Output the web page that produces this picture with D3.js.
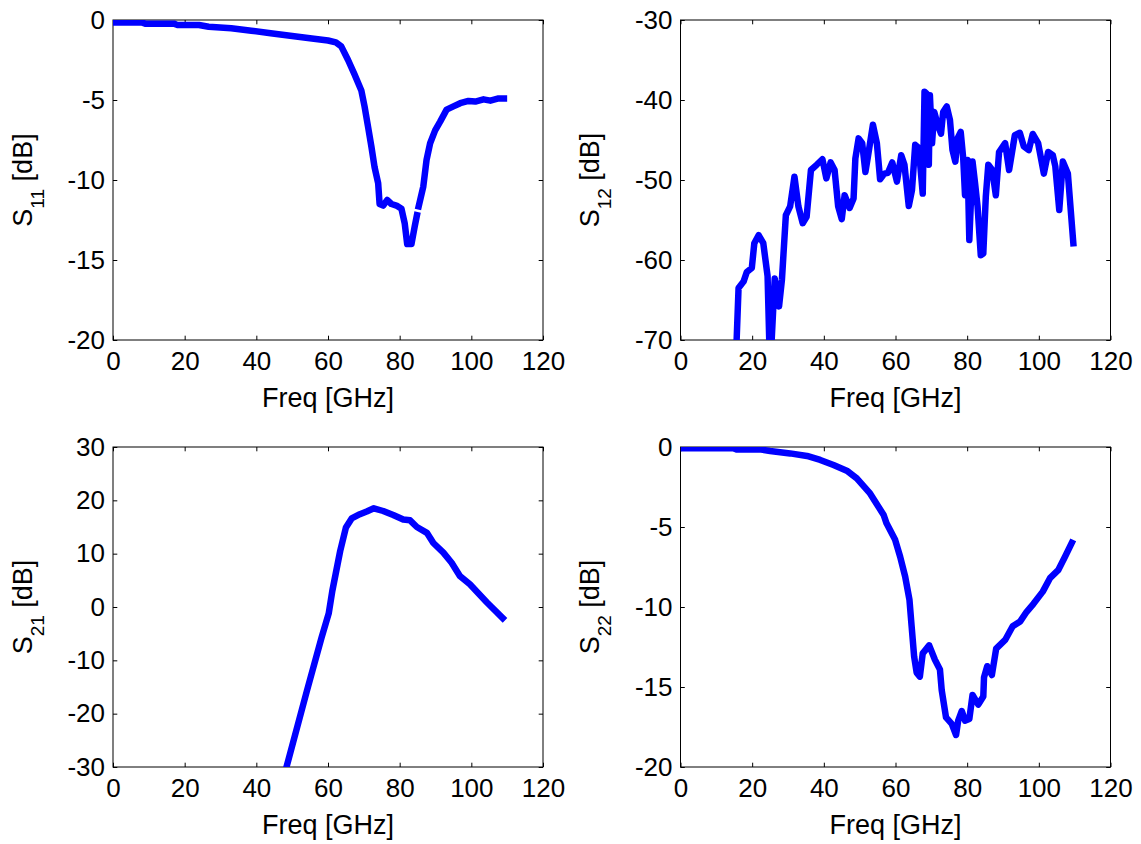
<!DOCTYPE html>
<meta charset="utf-8">
<style>
  body { margin: 0; background: #fff; }
  svg { display: block; font-family: "Liberation Sans", Arial, sans-serif; }
  .frame { fill: none; stroke: #000; stroke-width: 1; }
  .tick line { stroke: #000; stroke-width: 1; }
  .tick text { font-size: 26px; fill: #000; }
  .trace { fill: none; stroke: #0000ff; stroke-width: 6.5; stroke-linejoin: round; stroke-linecap: butt; }
  .label { font-size: 27px; fill: #000; }
</style>
<body>
<script src="https://cdn.jsdelivr.net/npm/d3@7"></script>
<script>
// [freq GHz, dB]
var s11 = [[0,-0.15],[8,-0.15],[9,-0.23],[17,-0.23],[18,-0.31],[24,-0.31],[26.7,-0.42],[33,-0.52],
  [38.6,-0.67],[44,-0.83],[50,-1.0],[55.5,-1.15],[60,-1.28],[62.2,-1.4],[63.7,-1.65],[65.6,-2.5],
  [67.4,-3.4],[69.3,-4.4],[70.2,-5.4],[71.2,-6.7],[72.1,-7.9],[73,-9.2],[74,-10.2],[74.4,-11.5],
  [75.4,-11.6],[76.5,-11.25],[77.7,-11.5],[79.1,-11.6],[80.5,-11.8],[81.4,-12.7],[82.1,-14],
  [83.3,-14],[84.2,-12.9],[85.0,-12.0],null,[85.1,-11.85],[86.6,-10.4],[87.5,-8.75],[88.5,-7.7],
  [89.9,-6.9],[91.3,-6.35],[93.1,-5.6],[95,-5.4],[96.9,-5.2],[99.2,-5.06],[101.1,-5.1],
  [103.4,-4.96],[105.3,-5.04],[107.6,-4.9],[110,-4.9]];

var s12 = [[15.5,-72],[16.2,-63.5],[17.6,-62.7],[18.5,-61.5],[19.9,-61],[20.6,-57.9],[21.8,-56.9],
  [23.1,-57.9],[24.3,-62],[25,-74],[26.3,-62.3],[27.5,-65.8],[28.3,-62.5],[29.4,-54.4],[30.6,-53.3],
  [31.8,-49.6],[32.9,-53.3],[34.1,-55.4],[35.2,-54.6],[36.4,-48.75],[38,-48.1],[39.6,-47.4],
  [40.7,-49.8],[41.9,-47.8],[43,-48.75],[44,-53.3],[45,-54.9],[45.8,-51.9],[47.2,-53.5],[48.3,-52.3],
  [48.8,-47.3],[49.7,-44.8],[50.7,-45.4],[51.6,-49],[52.3,-47.1],[53.7,-43.1],[54.8,-45.4],
  [55.7,-49.9],[56.9,-49.2],[57.9,-49.1],[59.1,-47.8],[60.4,-50.2],[61.6,-46.9],[62.5,-48.1],
  [63.7,-53.25],[64.6,-51.25],[65.5,-45.6],[66.5,-46],[67.6,-51.7],[68.1,-38.96],[68.7,-39.2],
  [69.3,-48.1],[69.6,-39.4],[70.2,-45.4],[70.8,-41.5],[71.8,-43.1],[72.7,-44.2],[73.3,-41.5],
  [74.3,-40.8],[75.2,-42.5],[75.9,-46.25],[76.7,-47.7],[77.3,-44.8],[78.2,-44],[78.9,-47.3],
  [79.4,-51.9],[80.1,-47.5],[80.6,-57.5],[81.5,-47.7],[82.2,-50.4],[82.9,-53.3],[83.8,-59.4],
  [84.5,-59.2],[85.2,-52.1],[85.9,-48.1],[87,-48.75],[88,-51.9],[88.9,-46.5],[90.6,-45.4],
  [91.7,-48.75],[93.3,-44.4],[94.7,-44.1],[95.8,-45.8],[97.2,-46.25],[98.3,-44.25],[99.8,-45.4],
  [101.4,-49.2],[102.6,-46.5],[103.9,-46.9],[104.6,-48.3],[105.7,-53.75],[106.7,-47.7],
  [108.1,-49.2],[109.7,-58.3]];

var s21 = [[48,-31],[48.5,-29.8],[54.1,-15.75],[58.2,-5.75],[60.2,-1.2],[61.2,3],[63.4,10.5],
  [65,14.9],[66.6,16.6],[68.9,17.4],[70.8,17.9],[72.8,18.5],[75.4,18],[78.2,17.25],[81,16.4],
  [82.9,16.25],[84.8,15],[87.6,13.9],[89.4,12],[92.2,10.2],[94.5,8.3],[96.8,5.8],[99.6,4.25],
  [104.3,0.9],[109.4,-2.5]];

var s22 = [[0,-0.08],[14.7,-0.08],[15.6,-0.15],[22.1,-0.15],[25,-0.25],[30.6,-0.4],[35.3,-0.56],
  [39,-0.81],[42.7,-1.125],[46.4,-1.48],[49.2,-1.96],[52.9,-2.9],[56.7,-4.25],[57.5,-4.77],
  [59.9,-5.8],[61.3,-6.86],[62.7,-8.1],[63.9,-9.56],[64.5,-11.2],[65.2,-13.1],[65.9,-14.1],
  [66.8,-14.35],[67.6,-12.9],[69.4,-12.4],[71,-13.3],[72.4,-13.9],[72.9,-15.2],[74.1,-16.9],
  [75.7,-17.3],[76.9,-18],[77.5,-17.1],[78.5,-16.5],[79.4,-17.1],[80.6,-17],[81.5,-15.5],
  [83.1,-16.1],[84.5,-15.6],[84.7,-14.4],[85.6,-13.7],[86.9,-14.25],[88.1,-12.6],[90.6,-12.06],
  [92.7,-11.2],[94.8,-10.9],[96.6,-10.3],[98.5,-9.8],[101.1,-9.04],[103.1,-8.2],[105.4,-7.7],
  [107.3,-6.86],[109.6,-5.8]];

var freqTicks = [0, 20, 40, 60, 80, 100, 120];
var s11Ticks = [0, -5, -10, -15, -20];
var s12Ticks = [-30, -40, -50, -60, -70];
var s21Ticks = [30, 20, 10, 0, -10, -20, -30];
var s22Ticks = [0, -5, -10, -15, -20];

var panels = [
  { sub: "11", data: s11, ticks: s11Ticks, domain: [-20, 0], left: 113, top: 20 },
  { sub: "12", data: s12, ticks: s12Ticks, domain: [-70, -30], left: 680.5, top: 20 },
  { sub: "21", data: s21, ticks: s21Ticks, domain: [-30, 30], left: 113, top: 447 },
  { sub: "22", data: s22, ticks: s22Ticks, domain: [-20, 0], left: 680.5, top: 447 }
];

var W = 430, H = 320, tk = 4.3;

var svg = d3.select("body").append("svg")
  .attr("width", 1141)
  .attr("height", 844);

panels.forEach(function(p, i) {
  var x = d3.scaleLinear().domain([0, 120]).range([0, W]);
  var y = d3.scaleLinear().domain(p.domain).range([H, 0]);

  var g = svg.append("g").attr("transform", "translate(" + p.left + "," + p.top + ")");

  g.append("clipPath").attr("id", "clip" + i)
    .append("rect").attr("width", W).attr("height", H);

  // ticks point inward, mirrored on top and right like the box
  g.append("g").attr("transform", "translate(0," + H + ")")
    .call(d3.axisBottom(x).tickValues(freqTicks).tickSizeInner(-tk).tickSizeOuter(0)
      .tickPadding(12).tickFormat(function(d) { return d; }));
  g.append("g")
    .call(d3.axisTop(x).tickValues(freqTicks).tickSizeInner(-tk).tickSizeOuter(0).tickFormat(""));
  g.append("g")
    .call(d3.axisLeft(y).tickValues(p.ticks).tickSizeInner(-tk).tickSizeOuter(0)
      .tickPadding(8).tickFormat(function(d) { return d; }));
  g.append("g").attr("transform", "translate(" + W + ",0)")
    .call(d3.axisRight(y).tickValues(p.ticks).tickSizeInner(-tk).tickSizeOuter(0).tickFormat(""));
  g.selectAll(".domain").remove();
  g.selectAll(".tick text").attr("font-family", null).attr("font-size", null);

  g.append("rect").attr("class", "frame").attr("width", W).attr("height", H);

  var line = d3.line()
    .defined(function(d) { return d !== null; })
    .x(function(d) { return x(d[0]); })
    .y(function(d) { return y(d[1]); });

  g.append("path")
    .attr("class", "trace")
    .attr("clip-path", "url(#clip" + i + ")")
    .attr("d", line(p.data));

  g.append("text").attr("class", "label")
    .attr("x", W / 2).attr("y", H + 67)
    .attr("text-anchor", "middle")
    .text("Freq [GHz]");

  var yl = g.append("text").attr("class", "label")
    .attr("transform", "translate(-81.5," + (H / 2) + ") rotate(-90)")
    .attr("text-anchor", "middle");
  yl.append("tspan").text("S");
  yl.append("tspan").attr("font-size", 19).attr("dy", 12).text(p.sub);
  yl.append("tspan").attr("dy", -12).text(" [dB]");
});
</script>
</body>
